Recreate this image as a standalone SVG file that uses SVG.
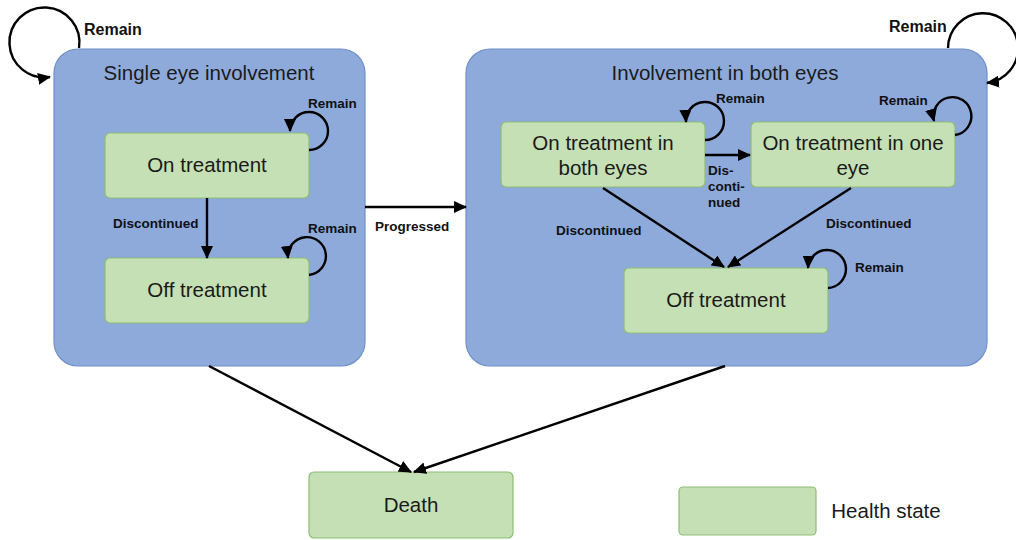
<svg xmlns="http://www.w3.org/2000/svg" width="1016" height="540" viewBox="0 0 1016 540">
<style>
.cont{fill:#8eaadb;stroke:#7190c8;stroke-width:1.2}
.node{fill:#c5e0b4;stroke:#8ebd74;stroke-width:1.2}
.t{font-family:"Liberation Sans",Arial,sans-serif;fill:#1a1a1a;text-anchor:middle}
.big{font-size:20.5px}
.lbl{font-family:"Liberation Sans",Arial,sans-serif;font-weight:bold;font-size:13.5px;fill:#111}
.lbl2{font-family:"Liberation Sans",Arial,sans-serif;font-weight:bold;font-size:16px;fill:#111}
.c{fill:none;stroke:#000;stroke-width:2.4;marker-end:url(#ah)}
</style>
<defs>
<marker id="ah" markerUnits="userSpaceOnUse" markerWidth="14" markerHeight="12" refX="12" refY="6" orient="auto">
<path d="M0,0 L13,6 L0,12 z" fill="#000"/>
</marker>
</defs>
<rect width="1016" height="540" fill="#fff"/>
<g id="single-eye">
<rect class="cont" x="54" y="49" width="311" height="317" rx="24"/>
<text class="t big" x="209" y="80">Single eye involvement</text>
</g>
<g id="both-eyes">
<rect class="cont" x="466" y="49" width="521" height="317" rx="24"/>
<text class="t big" x="725" y="80">Involvement in both eyes</text>
</g>
<g id="on-treatment">
<rect class="node" x="105" y="133" width="204" height="65" rx="5"/>
<text class="t big" x="207" y="172">On treatment</text>
</g>
<g id="off-treatment-left">
<rect class="node" x="105" y="258" width="204" height="65" rx="5"/>
<text class="t big" x="207" y="297">Off treatment</text>
</g>
<g id="on-both">
<rect class="node" x="501" y="122" width="204" height="65" rx="5"/>
<text class="t big" x="603" y="150">On treatment in</text>
<text class="t big" x="603" y="175">both eyes</text>
</g>
<g id="on-one">
<rect class="node" x="751" y="122" width="204" height="65" rx="5"/>
<text class="t big" x="853" y="150">On treatment in one</text>
<text class="t big" x="853" y="175">eye</text>
</g>
<g id="off-treatment-right">
<rect class="node" x="624" y="268" width="204" height="65" rx="5"/>
<text class="t big" x="726" y="307">Off treatment</text>
</g>
<g id="death">
<rect class="node" x="309" y="472" width="204" height="66" rx="5"/>
<text class="t big" x="411" y="512">Death</text>
</g>
<g id="legend">
<rect class="node" x="679" y="487" width="137" height="48" rx="4"/>
<text class="t big" x="886" y="518">Health state</text>
</g>
<g id="connectors">
<path class="c" d="M79,48 A35,35 0 1 0 50,77"/>
<path class="c" d="M948,48 A35,35 0 1 1 987,83"/>
<path class="c" d="M309,150 A19,19 0 1 0 290,131"/>
<path class="c" d="M309,275 A19,19 0 1 0 288,258"/>
<path class="c" d="M705,140 A19,19 0 1 0 686,122"/>
<path class="c" d="M955,135 A19,19 0 1 0 934,121"/>
<path class="c" d="M828,288 A19,19 0 1 0 808,268"/>
<path class="c" d="M207,198 L207,258"/>
<path class="c" d="M365,207 L466,207"/>
<path class="c" d="M705,155 L750,155"/>
<path class="c" d="M603,188 L724,267"/>
<path class="c" d="M851,188 L728,267"/>
<path class="c" d="M209,366 L411,472"/>
<path class="c" d="M725,366 L414,472"/>
<text class="lbl2" x="84" y="35">Remain</text>
<text class="lbl2" x="889" y="32">Remain</text>
<text class="lbl" x="308" y="108">Remain</text>
<text class="lbl" x="308" y="233">Remain</text>
<text class="lbl" x="716" y="103">Remain</text>
<text class="lbl" x="879" y="105">Remain</text>
<text class="lbl" x="855" y="272">Remain</text>
<text class="lbl" x="113" y="228">Discontinued</text>
<text class="lbl" x="375" y="231">Progressed</text>
<text class="lbl" x="708" y="175">Dis-</text>
<text class="lbl" x="708" y="191">conti-</text>
<text class="lbl" x="708" y="207">nued</text>
<text class="lbl" x="556" y="235">Discontinued</text>
<text class="lbl" x="826" y="228">Discontinued</text>
</g>
</svg>
